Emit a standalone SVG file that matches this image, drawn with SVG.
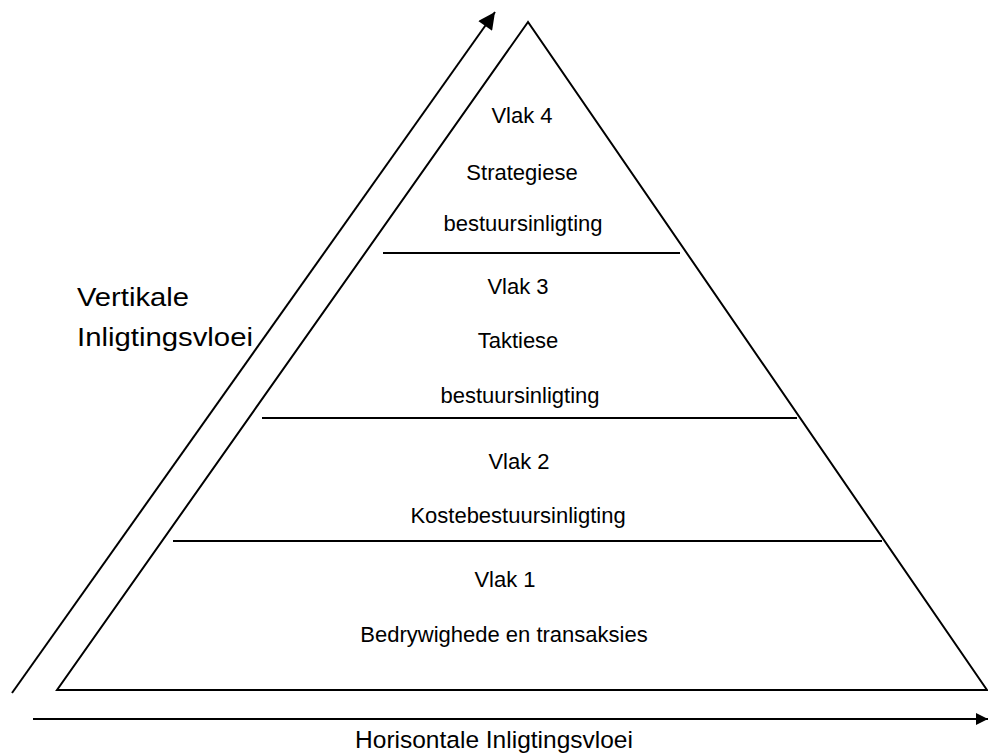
<svg xmlns="http://www.w3.org/2000/svg" width="988" height="755" viewBox="0 0 988 755">
<style>
.ln{stroke:#000;stroke-width:2;fill:none}
.t{font-family:"Liberation Sans",Arial,sans-serif;font-size:22px;fill:#000;text-anchor:middle}
.s{font-family:"Liberation Sans",Arial,sans-serif;font-size:25px;fill:#000}
</style>
<defs>
<marker id="ah" viewBox="0 0 10 10" refX="10" refY="5" markerWidth="13" markerHeight="12" markerUnits="userSpaceOnUse" orient="auto">
<path d="M0,0 L10,5 L0,10 z" fill="#000"/>
</marker>
<marker id="ah2" viewBox="0 0 10 10" refX="10" refY="5" markerWidth="21" markerHeight="17" markerUnits="userSpaceOnUse" orient="auto">
<path d="M0,0 L10,5 L0,10 z" fill="#000"/>
</marker>
</defs>
<g id="pyramid">
<polygon class="ln" points="528,22 57,690 987,690"/>
</g>
<g id="dividers">
<line class="ln" x1="383" y1="253" x2="680" y2="253"/>
<line class="ln" x1="262" y1="418" x2="797" y2="418"/>
<line class="ln" x1="173" y1="541" x2="882" y2="541"/>
</g>
<g id="vlak4">
<text class="t" x="522" y="123">Vlak 4</text>
<text class="t" x="522" y="180">Strategiese</text>
<text class="t" x="523" y="231">bestuursinligting</text>
</g>
<g id="vlak3">
<text class="t" x="518" y="294">Vlak 3</text>
<text class="t" x="518" y="348">Taktiese</text>
<text class="t" x="520" y="403">bestuursinligting</text>
</g>
<g id="vlak2">
<text class="t" x="519" y="469">Vlak 2</text>
<text class="t" x="518" y="523">Kostebestuursinligting</text>
</g>
<g id="vlak1">
<text class="t" x="505" y="587">Vlak 1</text>
<text class="t" x="504" y="642">Bedrywighede en transaksies</text>
</g>
<g id="connectors">
<line class="ln" x1="12" y1="693" x2="495" y2="12" marker-end="url(#ah2)"/>
<line class="ln" x1="33" y1="719" x2="988" y2="719" marker-end="url(#ah)"/>
</g>
<g id="vertical-label">
<text class="s" x="77" y="306" textLength="112" lengthAdjust="spacingAndGlyphs">Vertikale</text>
<text class="s" x="77" y="346" textLength="176" lengthAdjust="spacingAndGlyphs">Inligtingsvloei</text>
</g>
<g id="horizontal-label">
<text class="s" x="494" y="748" text-anchor="middle" style="font-size:24.5px">Horisontale Inligtingsvloei</text>
</g>
</svg>
